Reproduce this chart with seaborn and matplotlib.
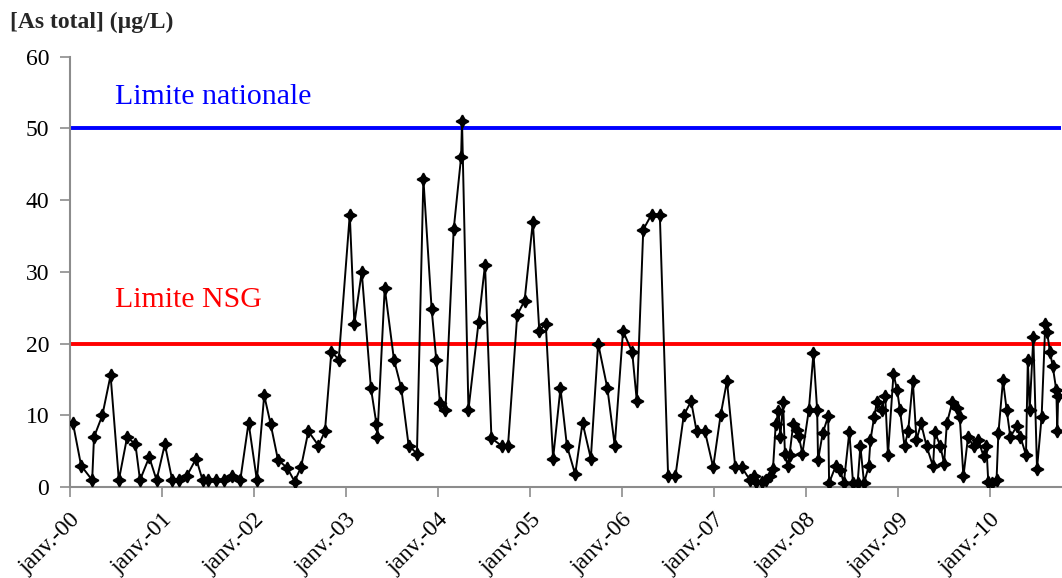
import numpy as np
import pandas as pd
import matplotlib
matplotlib.use('Agg')
import matplotlib.pyplot as plt
import matplotlib.dates as mdates
import seaborn as sns

# dates d'échantillonnage (années décimales) et concentrations As total (µg/L)
annees = [
    2000.03, 2000.12, 2000.24, 2000.26, 2000.35, 2000.44, 2000.53, 2000.62, 2000.71, 2000.76,
    2000.86, 2000.94, 2001.03, 2001.11, 2001.18, 2001.27, 2001.37, 2001.44, 2001.50, 2001.59,
    2001.67, 2001.76, 2001.85, 2001.94, 2002.03, 2002.11, 2002.18, 2002.26, 2002.36, 2002.44,
    2002.51, 2002.59, 2002.70, 2002.77, 2002.84, 2002.92, 2003.04, 2003.09, 2003.17, 2003.27,
    2003.33, 2003.34, 2003.42, 2003.52, 2003.60, 2003.68, 2003.77, 2003.84, 2003.93, 2003.98,
    2004.02, 2004.08, 2004.17, 2004.25, 2004.26, 2004.33, 2004.44, 2004.51, 2004.58, 2004.69,
    2004.76, 2004.86, 2004.94, 2005.03, 2005.10, 2005.17, 2005.25, 2005.33, 2005.40, 2005.49,
    2005.57, 2005.66, 2005.74, 2005.84, 2005.92, 2006.01, 2006.11, 2006.16, 2006.23, 2006.32,
    2006.41, 2006.50, 2006.58, 2006.67, 2006.75, 2006.81, 2006.90, 2006.99, 2007.07, 2007.14,
    2007.23, 2007.30, 2007.39, 2007.43, 2007.46, 2007.52, 2007.56, 2007.61, 2007.64, 2007.67,
    2007.70, 2007.72, 2007.75, 2007.77, 2007.80, 2007.82, 2007.86, 2007.90, 2007.92, 2007.96,
    2008.03, 2008.08, 2008.12, 2008.13, 2008.18, 2008.24, 2008.25, 2008.32, 2008.37, 2008.41,
    2008.47, 2008.51, 2008.56, 2008.59, 2008.63, 2008.68, 2008.70, 2008.74, 2008.77, 2008.82,
    2008.86, 2008.89, 2008.95, 2008.99, 2009.02, 2009.07, 2009.11, 2009.16, 2009.20, 2009.25,
    2009.31, 2009.38, 2009.40, 2009.46, 2009.50, 2009.53, 2009.59, 2009.64, 2009.67, 2009.71,
    2009.76, 2009.82, 2009.87, 2009.93, 2009.96, 2009.98, 2010.02, 2010.07, 2010.09, 2010.14,
    2010.18, 2010.22, 2010.29, 2010.33, 2010.39, 2010.41, 2010.43, 2010.47, 2010.51, 2010.56,
    2010.60, 2010.62, 2010.65, 2010.68, 2010.72, 2010.73, 2010.74,
]
as_total = [
    9, 3, 1, 7, 10, 15.6, 1, 7, 6, 1,
    4.2, 1, 6, 1, 1, 1.6, 4, 1, 1, 1,
    1, 1.6, 1, 9, 1, 12.8, 8.8, 3.8, 2.7, 0.8,
    2.8, 7.8, 5.8, 7.8, 18.9, 17.8, 38, 22.8, 30, 13.8,
    8.8, 7, 27.8, 17.8, 13.8, 5.8, 4.7, 43, 24.8, 17.8,
    11.8, 10.8, 36, 46, 51, 10.8, 23, 31, 6.8, 5.8,
    5.8, 24, 26, 37, 21.8, 22.8, 4, 13.8, 5.8, 1.8,
    9, 4, 20, 13.8, 5.8, 21.8, 18.8, 12, 35.9, 38,
    38, 1.6, 1.6, 10, 12, 7.8, 7.8, 2.8, 10, 14.8,
    2.8, 2.8, 1, 1.5, 0.8, 0.8, 1, 1.5, 2.6, 8.8,
    10.6, 7, 11.9, 4.7, 2.9, 4.5, 8.8, 8, 7.1, 4.7,
    10.8, 18.7, 10.8, 3.8, 7.5, 9.9, 0.6, 2.9, 2.4, 0.6,
    7.7, 0.6, 0.6, 5.7, 0.6, 2.9, 6.6, 9.8, 11.9, 10.8,
    12.7, 4.5, 15.8, 13.5, 10.8, 5.7, 7.9, 14.8, 6.6, 8.9,
    5.7, 2.9, 7.7, 5.7, 3.3, 8.9, 11.9, 11, 9.8, 1.5,
    7, 5.7, 6.6, 4.3, 5.7, 0.8, 0.6, 1, 7.5, 14.9,
    10.8, 7, 8.5, 7, 4.5, 17.7, 10.8, 20.9, 2.6, 9.8,
    22.8, 21.6, 18.9, 16.9, 13.5, 7.9, 12.7,
]

limite_nationale = 50
limite_nsg = 20
annee_debut = 2000
annee_fin = 2010.77


def to_date(a):
    a = np.asarray(a, dtype=float)
    return pd.Timestamp('2000-01-01') + pd.to_timedelta((a - 2000) * 365.25, unit='D')


df = pd.DataFrame({'date': to_date(annees), 'As': as_total})

sns.set_style('white')
plt.rcParams['font.family'] = ['Liberation Serif', 'DejaVu Serif']

fig = plt.figure(figsize=(10.62, 5.78), dpi=100)
ax = fig.add_axes([0.066, 0.157, 0.933, 0.745])

ax.axhline(limite_nationale, color='#0000FF', lw=2.8, zorder=1)
ax.axhline(limite_nsg, color='#FF0000', lw=2.8, zorder=1)

sns.lineplot(data=df, x='date', y='As', color='black', lw=1.4,
             marker=(4, 1, 0), markersize=9, markeredgecolor='black',
             markeredgewidth=1.2, markerfacecolor='black', ax=ax, zorder=3)

ax.text(to_date([2000.49])[0], 54.4, 'Limite nationale', color='#0000FF',
        fontsize=21.5, va='center', ha='left')
ax.text(to_date([2000.49])[0], 26.1, 'Limite NSG', color='#FF0000',
        fontsize=21.5, va='center', ha='left')

ax.set_ylim(0, 60)
ax.set_yticks(range(0, 61, 10))
ax.set_xlim(to_date([annee_debut])[0], to_date([annee_fin])[0])
ax.xaxis.set_major_locator(mdates.YearLocator())
ax.xaxis.set_major_formatter(
    matplotlib.ticker.FuncFormatter(lambda v, p: 'janv.-%02d' % (mdates.num2date(v).year % 100)))

for lab in ax.get_xticklabels():
    lab.set_rotation(45)
    lab.set_ha('right')
    lab.set_rotation_mode('anchor')

ax.set_xlabel('')
ax.set_ylabel('')
ax.tick_params(axis='both', labelsize=17, colors='black', length=7, width=1.2,
               direction='out', color='#8c8c8c', left=True, bottom=True)
ax.tick_params(axis='y', pad=8)
ax.tick_params(axis='x', pad=9)
for s in ['top', 'right']:
    ax.spines[s].set_visible(False)
for s in ['left', 'bottom']:
    ax.spines[s].set_color('#8c8c8c')
    ax.spines[s].set_linewidth(1.5)

fig.text(0.009, 0.962, '[As total] (µg/L)', fontsize=17, fontweight='bold',
         ha='left', va='center')

fig.savefig('out.png', dpi=100)
